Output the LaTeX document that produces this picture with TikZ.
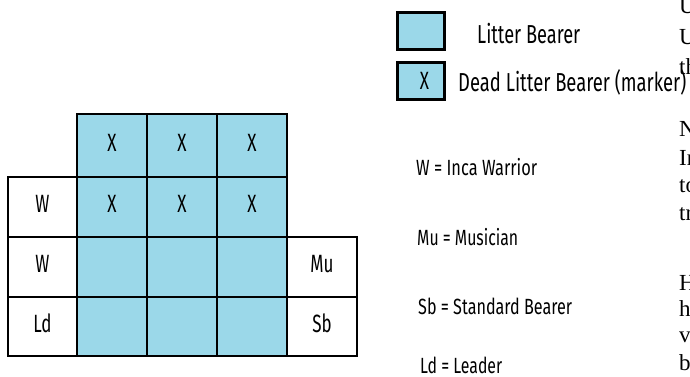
\documentclass[tikz,border=0pt]{standalone}
\usepackage{graphicx}
\usepackage{fontspec}
\newfontfamily\agency{Fira Sans}[FakeStretch=0.68]
\newfontfamily\serifpart{Liberation Serif}
\definecolor{cellblue}{RGB}{155,216,233}
\newcommand\fitw[2]{\resizebox{#1}{\height}{#2}}
\begin{document}
\begin{tikzpicture}[x=1pt,y=-1pt,
  cell/.style={draw=black, line width=2pt, minimum width=70pt, minimum height=60pt, inner sep=0pt},
  tall/.style={minimum height=63pt},
  bluecell/.style={cell, fill=cellblue, line width=2.6pt},
  whitecell/.style={cell, fill=white},
  lab/.style={label={[font=\agency\fontsize{25}{25}\selectfont, yshift=3pt]center:#1}},
  legbox/.style={draw=black, line width=3pt, fill=cellblue, minimum width=47pt, minimum height=37pt, inner sep=0pt},
  legtop/.style={font=\agency\fontsize{26}{26}\selectfont, inner sep=0pt, anchor=base west},
  legkey/.style={font=\agency\fontsize{22}{22}\selectfont, inner sep=0pt, anchor=base west},
  frag/.style={font=\serifpart\fontsize{23}{23}\selectfont, inner sep=0pt, anchor=base west}
]
\useasboundingbox (0,0) rectangle (690,376);
\fill[white] (0,0) rectangle (690,376);

% white side cells
\node[whitecell, lab=W]  (w2) at (42.5,207) {};
\node[whitecell, lab=W]  (w3) at (42.5,267) {};
\node[whitecell, minimum height=59pt, lab=Ld] (ld) at (42.5,326.5) {};
\node[whitecell, lab=Mu] (mu) at (322,267) {};
\node[whitecell, minimum height=59pt, lab=Sb] (sb) at (322,326.5) {};

% blue cells
\node[bluecell, tall, lab=X] (b12) at (112,145.5) {};
\node[bluecell, tall, lab=X] (b13) at (182,145.5) {};
\node[bluecell, tall, lab=X] (b14) at (252,145.5) {};
\node[bluecell, lab=X] (b22) at (112,207) {};
\node[bluecell, lab=X] (b23) at (182,207) {};
\node[bluecell, lab=X] (b24) at (252,207) {};
\node[bluecell] (b32) at (112,267) {};
\node[bluecell] (b33) at (182,267) {};
\node[bluecell] (b34) at (252,267) {};
\node[bluecell, minimum height=59pt] (b42) at (112,326.5) {};
\node[bluecell, minimum height=59pt] (b43) at (182,326.5) {};
\node[bluecell, minimum height=59pt] (b44) at (252,326.5) {};

% legend
\node[legbox] (lb1) at (421,31) {};
\node[legbox, label={[font=\agency\fontsize{25}{25}\selectfont, xshift=4pt]center:X}] (lb2) at (420.5,81) {};
\node[legtop] (t1) at (477,43) {\fitw{103pt}{Litter Bearer}};
\node[legtop] (t2) at (458,91) {\fitw{228pt}{Dead Litter Bearer (marker)}};

\node[legkey] (k1) at (416,175) {\fitw{121pt}{W = Inca Warrior}};
\node[legkey] (k2) at (417,245) {\fitw{101pt}{Mu = Musician}};
\node[legkey] (k3) at (418,314) {\fitw{154pt}{Sb = Standard Bearer}};
\node[legkey] (k4) at (420,373) {\fitw{82pt}{Ld = Leader}};

% clipped text at the right edge
\node[frag] (f1) at (679,13) {U};
\node[frag] (f2) at (679,44) {U};
\node[frag] (f3) at (679,74) {th};
\node[frag] (f4) at (679,136) {N};
\node[frag] (f5) at (679,165) {In};
\node[frag] (f6) at (679,192) {to};
\node[frag] (f7) at (679,220) {tr};
\node[frag] (f8) at (679,290) {H};
\node[frag] (f9) at (679,316) {h};
\node[frag] (f10) at (679,342) {v};
\node[frag] (f11) at (679,370) {b};
\end{tikzpicture}
\end{document}
